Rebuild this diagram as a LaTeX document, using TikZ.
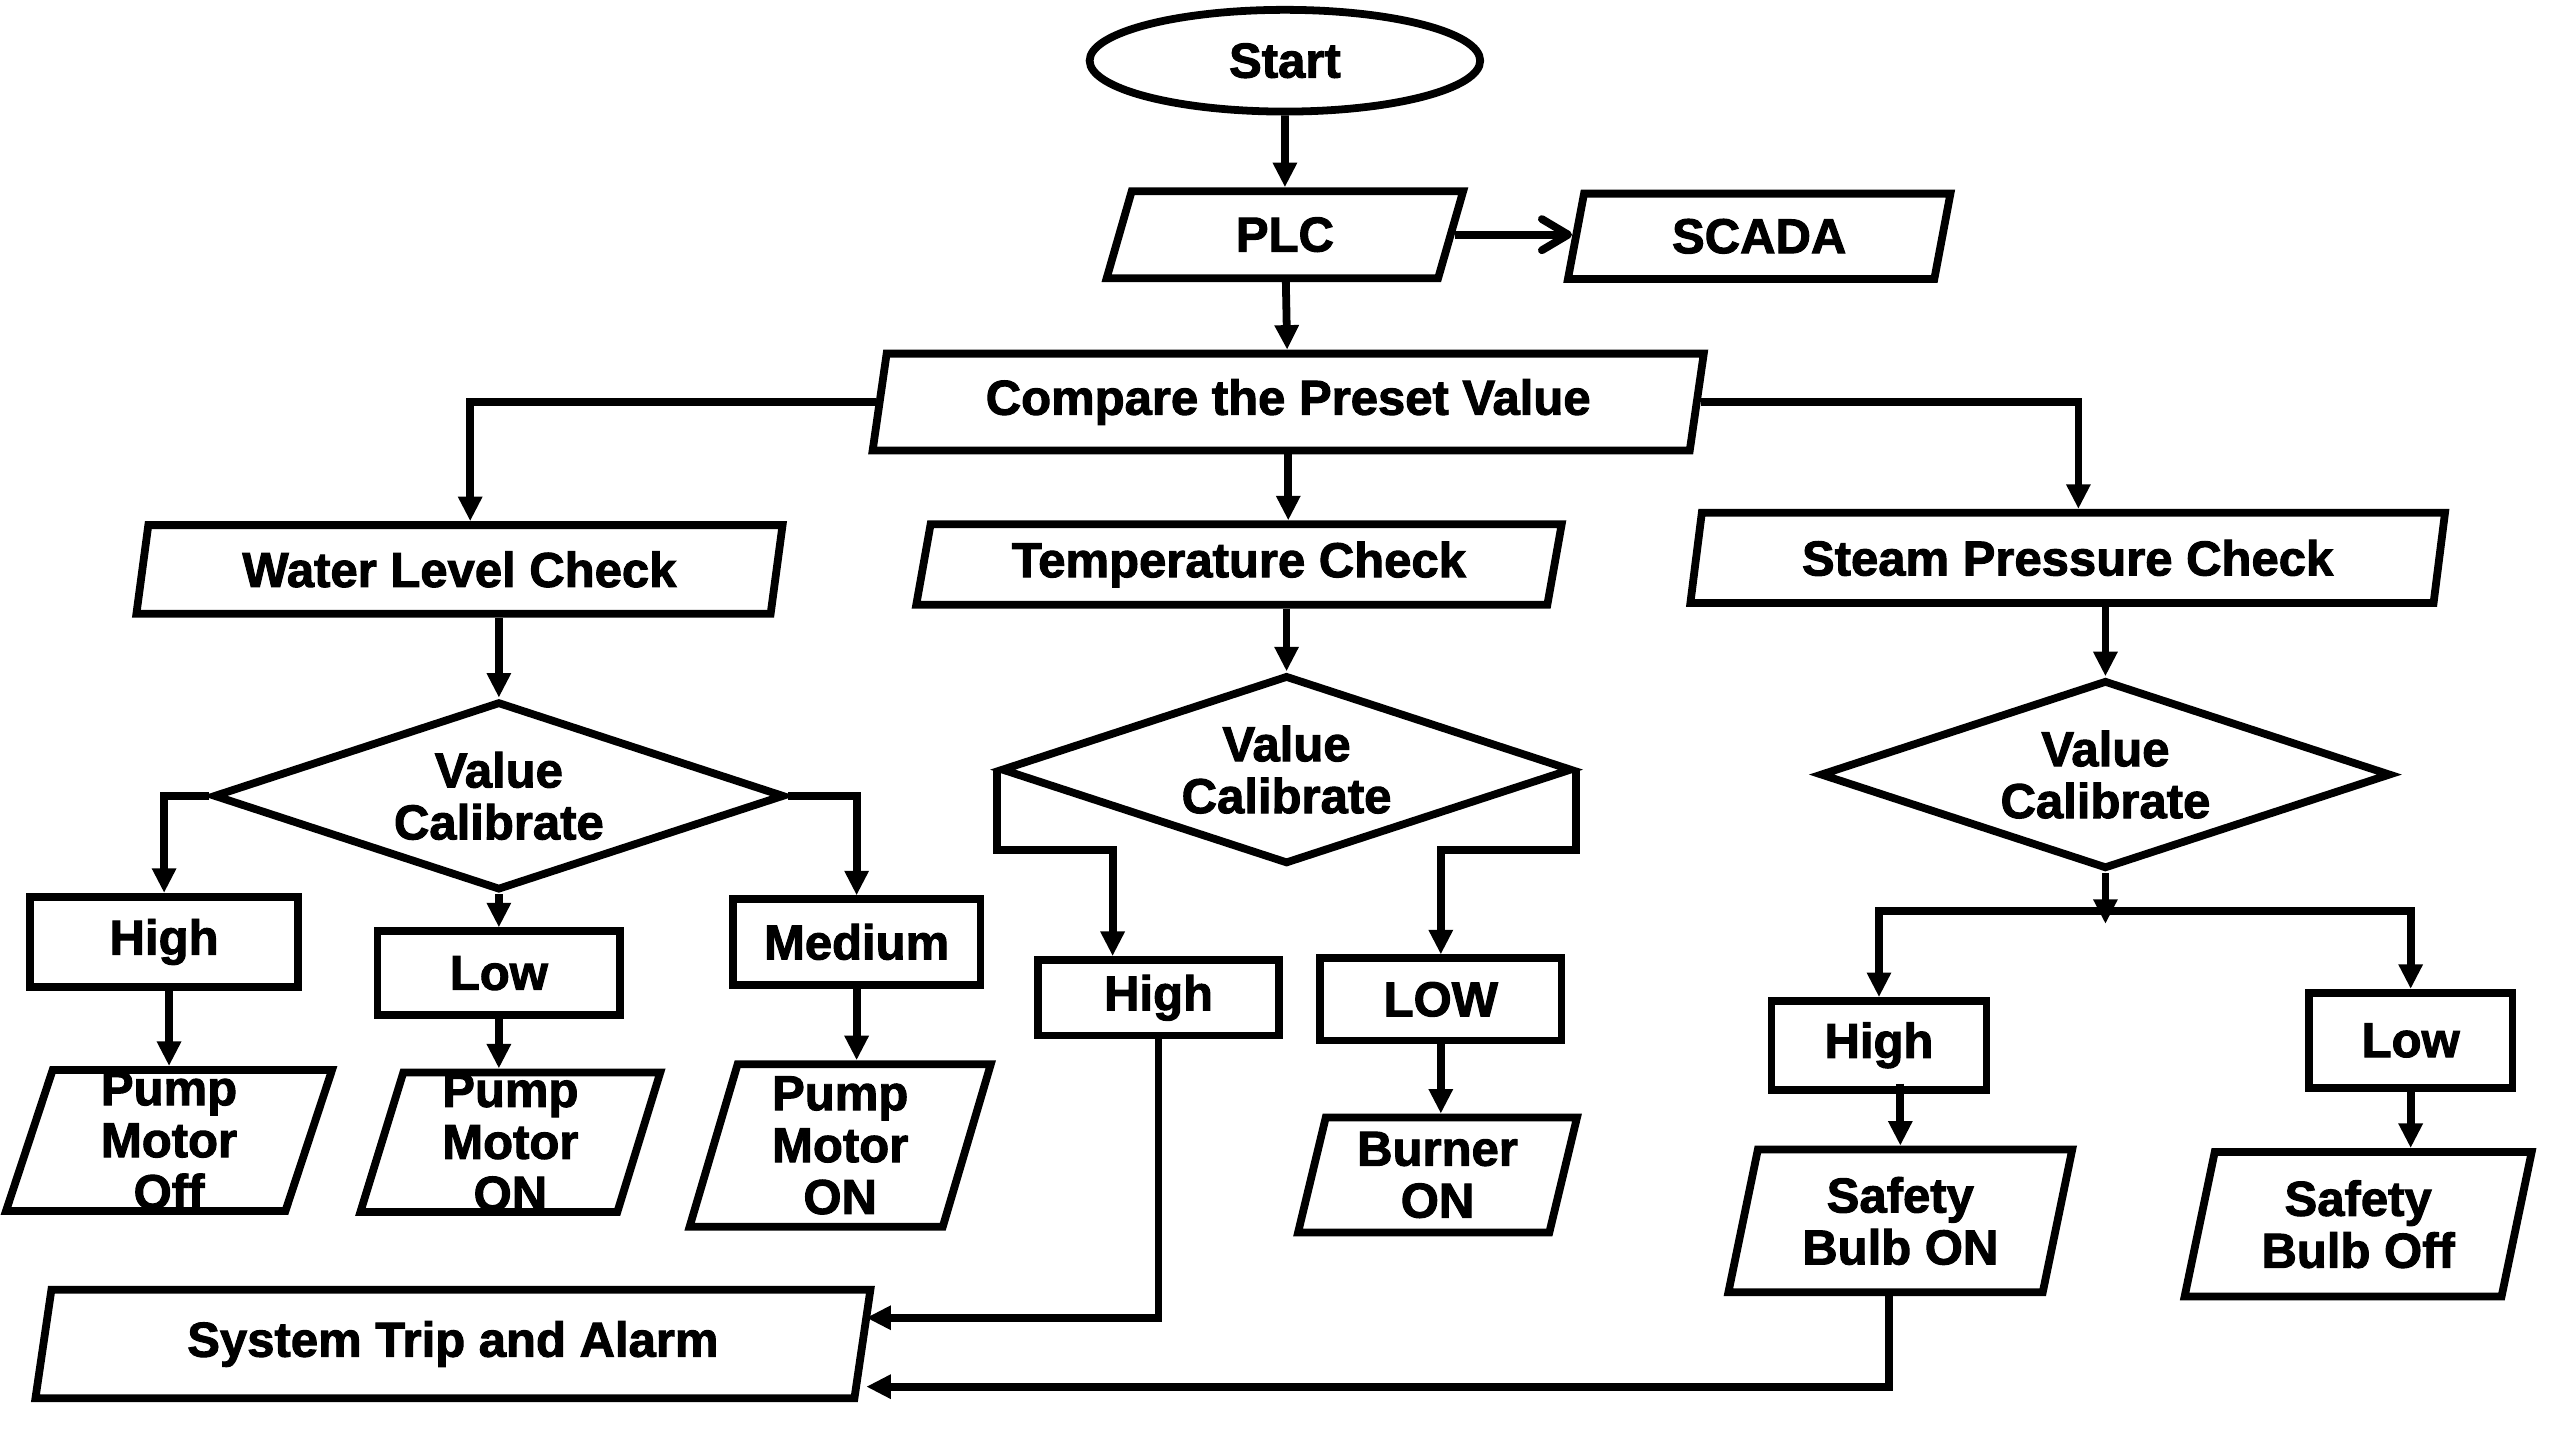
\documentclass[tikz,border=0pt]{standalone}
\usepackage{fontspec}
\setmainfont{Liberation Sans}[BoldFeatures={FakeBold=2}]
\usepackage{tikz}
\usetikzlibrary{arrows.meta, shapes.geometric, calc}

\begin{document}
\begin{tikzpicture}[x=0.2mm, y=-0.2mm,
    every node/.style={font=\bfseries\fontsize{17}{18}\selectfont, align=center, inner sep=0pt, line width=2.7pt},
    io/.style 2 args={draw, trapezium, trapezium left angle=77, trapezium right angle=103, trapezium stretches=true, minimum width=#1, minimum height=#2},
    box/.style 2 args={draw, rectangle, minimum width=#1, minimum height=#2},
    decision/.style={draw, diamond, aspect=3, minimum width=69.6mm, minimum height=23mm},
    flow/.style={line width=2.7pt, -{Triangle[length=3mm, width=2.8mm]}},
]
    \useasboundingbox (0,0) rectangle (1560,877.5);

    % Top
    \node[draw, ellipse, minimum width=47.6mm, minimum height=12.4mm] (start) at (783,37) {Start};
    \node[io={43.6mm}{10.6mm}] (plc) at (783,143) {PLC};
    \node[io={46.8mm}{10.4mm}] (scada) at (1072,144) {SCADA};
    \node[io={101.6mm}{11.8mm}] (cmp) at (785,245) {Compare the Preset Value};

    % Checks
    \node[io={78.8mm}{10.8mm}] (wlc) at (280,347) {Water Level Check};
    \node[io={78.8mm}{9.8mm}] (tmp) at (755,344) {Temperature Check};
    \node[io={92.2mm}{11mm}] (spc) at (1260,340) {Steam Pressure Check};
    \node[decision] (wdia) at (304,485) {Value\\Calibrate};
    \node[decision] (tdia) at (784,469) {Value\\Calibrate};
    \node[decision] (sdia) at (1283,472) {Value\\Calibrate};

    % Water level
    \node[box={32.6mm}{11mm}] (whi) at (100,574) {High};
    \node[box={29.6mm}{10.2mm}] (wlo) at (304,593) {Low};
    \node[box={30.2mm}{10.4mm}] (wmed) at (522,574) {Medium};
    \node[io={39.8mm}{17.2mm}, inner ysep=-1.2mm] (pmoff) at (103,695) {Pump\\Motor\\Off};
    \node[io={36.6mm}{17mm}, inner ysep=-1.2mm] (pmon1) at (311,696) {Pump\\Motor\\ON};
    \node[io={36.8mm}{19.8mm}] (pmon2) at (512,698) {Pump\\Motor\\ON};

    % Temperature
    \node[box={29.4mm}{9.2mm}] (thi) at (706,608) {High};
    \node[box={29.4mm}{10mm}] (tlo) at (878,609) {LOW};
    \node[io={34.2mm}{14mm}] (burner) at (876,716) {Burner\\ON};
    \node[io={101.8mm}{13.2mm}] (trip) at (276,819) {System Trip and Alarm};

    % Steam pressure
    \node[box={26.2mm}{10.8mm}] (shi) at (1145,637) {High};
    \node[box={24.8mm}{11.6mm}] (slo) at (1469,634) {Low};
    \node[io={42.2mm}{17.4mm}] (sbon) at (1158,744) {Safety\\Bulb ON};
    \node[io={42.4mm}{17.6mm}] (sboff) at (1437,746) {Safety\\Bulb Off};

    % Arrows
    \draw[flow] (start) -- (plc);
    \draw[line width=2.7pt, -{Straight Barb[length=3.2mm, width=3.8mm, round]}] (plc.east) -- (plc.east -| scada.west);
    \draw[flow] (plc) -- (cmp);
    \draw[flow] (cmp.west) -| ([xshift=1.3mm]wlc.north);
    \draw[flow] (cmp.south) -- (cmp.south |- tmp.north);
    \draw[flow] (cmp.east) -| ([xshift=1.3mm]spc.north);
    \draw[flow] (wlc.south -| wdia.north) -- (wdia.north);
    \draw[flow] (tmp.south -| tdia.north) -- (tdia.north);
    \draw[flow] (spc.south -| sdia.north) -- (sdia.north);

    \draw[flow] (wdia.west) -| (whi.north);
    \draw[flow] (wdia.south) -- (wlo.north);
    \draw[flow] (wdia.east) -| (wmed.north);
    \draw[flow] (pmoff.north |- whi.south) -- (pmoff.north);
    \draw[flow] (wlo.south) -- (wlo.south |- pmon1.north);
    \draw[flow] (wmed.south) -- (wmed.south |- pmon2.north);

    \draw[flow] (tdia.west) -- ++(0,49) -| ([xshift=-5.6mm]thi.north);
    \draw[flow] (tdia.east) -- ++(0,49) -| (tlo.north);
    \draw[flow] (tlo.south) -- (tlo.south |- burner.north);
    \draw[flow] (thi.south) |- ([yshift=3.2mm]trip.east);

    \coordinate (sjoin) at (1283,555);
    \coordinate (sarrow) at (1283,563);
    \draw[flow] (sdia.south) -- (sarrow);
    \draw[flow] (sjoin) -| (shi.north);
    \draw[flow] (sjoin) -| (slo.north);
    \draw[flow] ($(shi.south -| sbon.north)+(0,-6)$) -- (sbon.north);
    \draw[flow] (slo.south) -- (slo.south |- sboff.north);
    \draw[flow] ([xshift=-1.4mm]sbon.south) |- ([yshift=-5.2mm]trip.east);
\end{tikzpicture}
\end{document}
